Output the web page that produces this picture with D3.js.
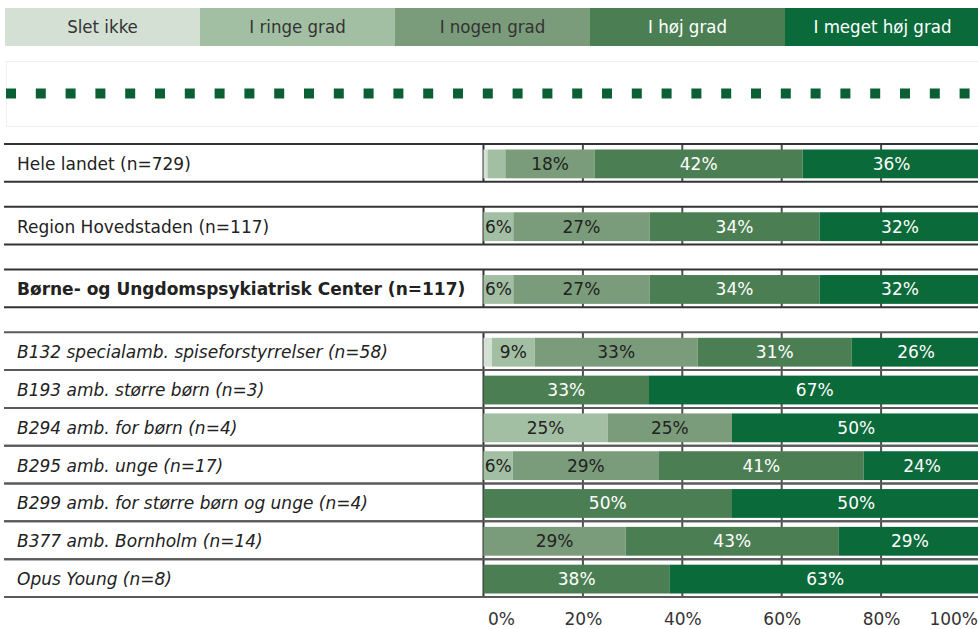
<!DOCTYPE html>
<html>
<head>
<meta charset="utf-8">
<script src="https://cdn.jsdelivr.net/npm/d3@7/dist/d3.min.js"></script>
<style>
    body { margin: 0; background: #fff; }
    svg { display: block; font-family: "DejaVu Sans", Verdana, sans-serif; }
</style>
</head>
<body>
<svg id="chart"></svg>
<script>

var categories = [
    'Hele landet (n=729)',
    'Region Hovedstaden (n=117)',
    'Børne- og Ungdomspsykiatrisk Center (n=117)',
    'B132 specialamb. spiseforstyrrelser (n=58)',
    'B193 amb. større børn (n=3)',
    'B294 amb. for børn (n=4)',
    'B295 amb. unge (n=17)',
    'B299 amb. for større børn og unge (n=4)',
    'B377 amb. Bornholm (n=14)',
    'Opus Young (n=8)'
];

var seriesNames = ['Slet ikke', 'I ringe grad', 'I nogen grad', 'I høj grad', 'I meget høj grad'];

// percent per category, one array per answer
var sletIkke       = [0.8, 0, 0, 1.7, 0, 0, 0, 0, 0, 0];
var iRingeGrad     = [3.6, 6.0, 6.0, 8.6, 0, 25, 5.9, 0, 0, 0];
var iNogenGrad     = [18.0, 27.4, 27.4, 32.8, 0, 25, 29.4, 0, 28.6, 0];
var iHoejGrad      = [41.8, 34.2, 34.2, 31.0, 33.3, 0, 41.2, 50, 42.9, 37.5];
var iMegetHoejGrad = [35.8, 32.4, 32.4, 25.9, 66.7, 50, 23.5, 50, 28.6, 62.5];

var tickValues = [0, 20, 40, 60, 80, 100];

var config = {
    width: 978,
    height: 629,
    colors: ['#d4e0d4', '#a3bfa3', '#7a9c7a', '#4b7f53', '#0b6a3a'],
    textColors: ['#222', '#222', '#222', '#fff', '#fff'],
    plotLeft: 483.5,
    plotRight: 980.5,
    rowsTop: 144,
    rowsBottom: 597,
    gapRows: 3,       // rows that are followed by an empty gap
    gapSize: 0.66,    // gap height, in row heights
    boldRow: 2,
    italicFrom: 3,
    fontSize: 17
};

var svg = d3.select('#chart')
    .attr('width', config.width)
    .attr('height', config.height);

var rows = categories.map(function (name, i) {
    return {
        name: name,
        index: i,
        values: [sletIkke[i], iRingeGrad[i], iNogenGrad[i], iHoejGrad[i], iMegetHoejGrad[i]]
    };
});

var x = d3.scaleLinear().domain([0, 100]).range([config.plotLeft, config.plotRight]);

var y = d3.scaleLinear()
    .domain([0, categories.length + config.gapRows * config.gapSize])
    .range([config.rowsTop, config.rowsBottom]);

function rowStart(i) {
    return i + config.gapSize * Math.min(i, config.gapRows);
}

/**
 * Legend strip on top
 */
function drawLegend() {
    var lx = d3.scaleBand().domain(seriesNames).range([5, 980]);
    var legend = svg.append('g').attr('class', 'legend');

    var items = legend.selectAll('g').data(seriesNames).enter().append('g');

    items.append('rect')
        .attr('x', function (d) { return lx(d); })
        .attr('y', 8)
        .attr('width', lx.bandwidth() + 0.5)
        .attr('height', 38)
        .attr('fill', function (d, i) { return config.colors[i]; });

    items.append('text')
        .attr('x', function (d) { return lx(d) + lx.bandwidth() / 2; })
        .attr('y', 33)
        .attr('text-anchor', 'middle')
        .style('font-family', '"DejaVu Sans Condensed", "Liberation Sans Narrow", "DejaVu Sans", sans-serif')
        .style('font-size', '18.5px')
        .attr('fill', function (d, i) { return i < 3 ? '#333' : '#fff'; })
        .text(function (d) { return d; });
}

/**
 * Dotted divider in a faint box
 */
function drawDivider() {
    svg.append('rect')
        .attr('x', 6.5).attr('y', 61.5)
        .attr('width', 990).attr('height', 65)
        .attr('fill', 'none')
        .attr('stroke', '#efefef');

    svg.append('line')
        .attr('x1', 6).attr('x2', config.width)
        .attr('y1', 93.5).attr('y2', 93.5)
        .attr('stroke', '#0a6034')
        .attr('stroke-width', 10)
        .attr('stroke-dasharray', '10,19.8');
}

/**
 * One panel per category: borders, grid, stacked bar, labels
 */
function drawRows() {
    var panels = svg.append('g').attr('class', 'rows')
        .selectAll('g').data(rows).enter().append('g')
        .attr('transform', function (d) {
            return 'translate(0,' + y(rowStart(d.index)) + ')';
        });

    var rowH = y(1) - y(0);

    // grid lines inside the panel
    panels.selectAll('.grid').data(tickValues).enter().append('line')
        .attr('class', 'grid')
        .attr('x1', function (t) { return x(t); })
        .attr('x2', function (t) { return x(t); })
        .attr('y1', 0).attr('y2', rowH)
        .attr('stroke', function (t) { return t === 0 ? '#333' : '#505050'; })
        .attr('stroke-width', 2);

    // top and bottom borders
    panels.selectAll('.border').data([0, rowH]).enter().append('line')
        .attr('class', 'border')
        .attr('x1', 4).attr('x2', config.width)
        .attr('y1', function (v) { return v; })
        .attr('y2', function (v) { return v; })
        .attr('stroke', function () {
            var d = d3.select(this.parentNode).datum();
            return d.index < config.italicFrom ? '#333' : '#5a5a5a';
        })
        .attr('stroke-width', 2);

    // stacked segments
    var segments = panels.selectAll('.seg')
        .data(function (d) {
            var acc = 0;
            return d.values.map(function (v, k) {
                var s = { start: acc, value: v, k: k };
                acc += v;
                return s;
            }).filter(function (s) { return s.value > 0; });
        })
        .enter().append('g').attr('class', 'seg');

    segments.append('rect')
        .attr('x', function (s) { return x(s.start); })
        .attr('y', 5.5)
        .attr('width', function (s) { return x(s.start + s.value) - x(s.start); })
        .attr('height', rowH - 9)
        .attr('fill', function (s) { return config.colors[s.k]; });

    segments.filter(function (s) { return s.value >= 5; })
        .append('text')
        .attr('x', function (s) { return x(s.start + s.value / 2); })
        .attr('y', 5.5 + (rowH - 9) / 2 + 6)
        .attr('text-anchor', 'middle')
        .style('font-size', config.fontSize + 'px')
        .attr('fill', function (s) { return config.textColors[s.k]; })
        .text(function (s) { return Math.round(s.value) + '%'; });

    // category labels
    panels.append('text')
        .attr('x', 17)
        .attr('y', rowH / 2 + 7)
        .style('font-size', config.fontSize + 'px')
        .style('font-weight', function (d) { return d.index === config.boldRow ? 'bold' : 'normal'; })
        .style('font-style', function (d) { return d.index >= config.italicFrom ? 'italic' : 'normal'; })
        .attr('fill', '#222')
        .text(function (d) { return d.name; });
}

/**
 * Percent axis at the bottom
 */
function drawAxis() {
    var axis = svg.append('g')
        .attr('transform', 'translate(0,599)')
        .call(d3.axisBottom(x)
            .tickValues(tickValues)
            .tickSize(0)
            .tickPadding(14)
            .tickFormat(function (d) { return d + '%'; }));

    axis.select('.domain').remove();
    axis.selectAll('text')
        .style('font-size', config.fontSize + 'px')
        .style('font-family', '"DejaVu Sans", Verdana, sans-serif')
        .attr('fill', '#333')
        .attr('text-anchor', function (d) {
            return d === 0 ? 'start' : (d === 100 ? 'end' : 'middle');
        })
        .attr('x', function (d) {
            return d === 0 ? 4 : (d === 100 ? -3 : 0);
        });
}

drawLegend();
drawDivider();
drawRows();
drawAxis();

</script>
</body>
</html>
